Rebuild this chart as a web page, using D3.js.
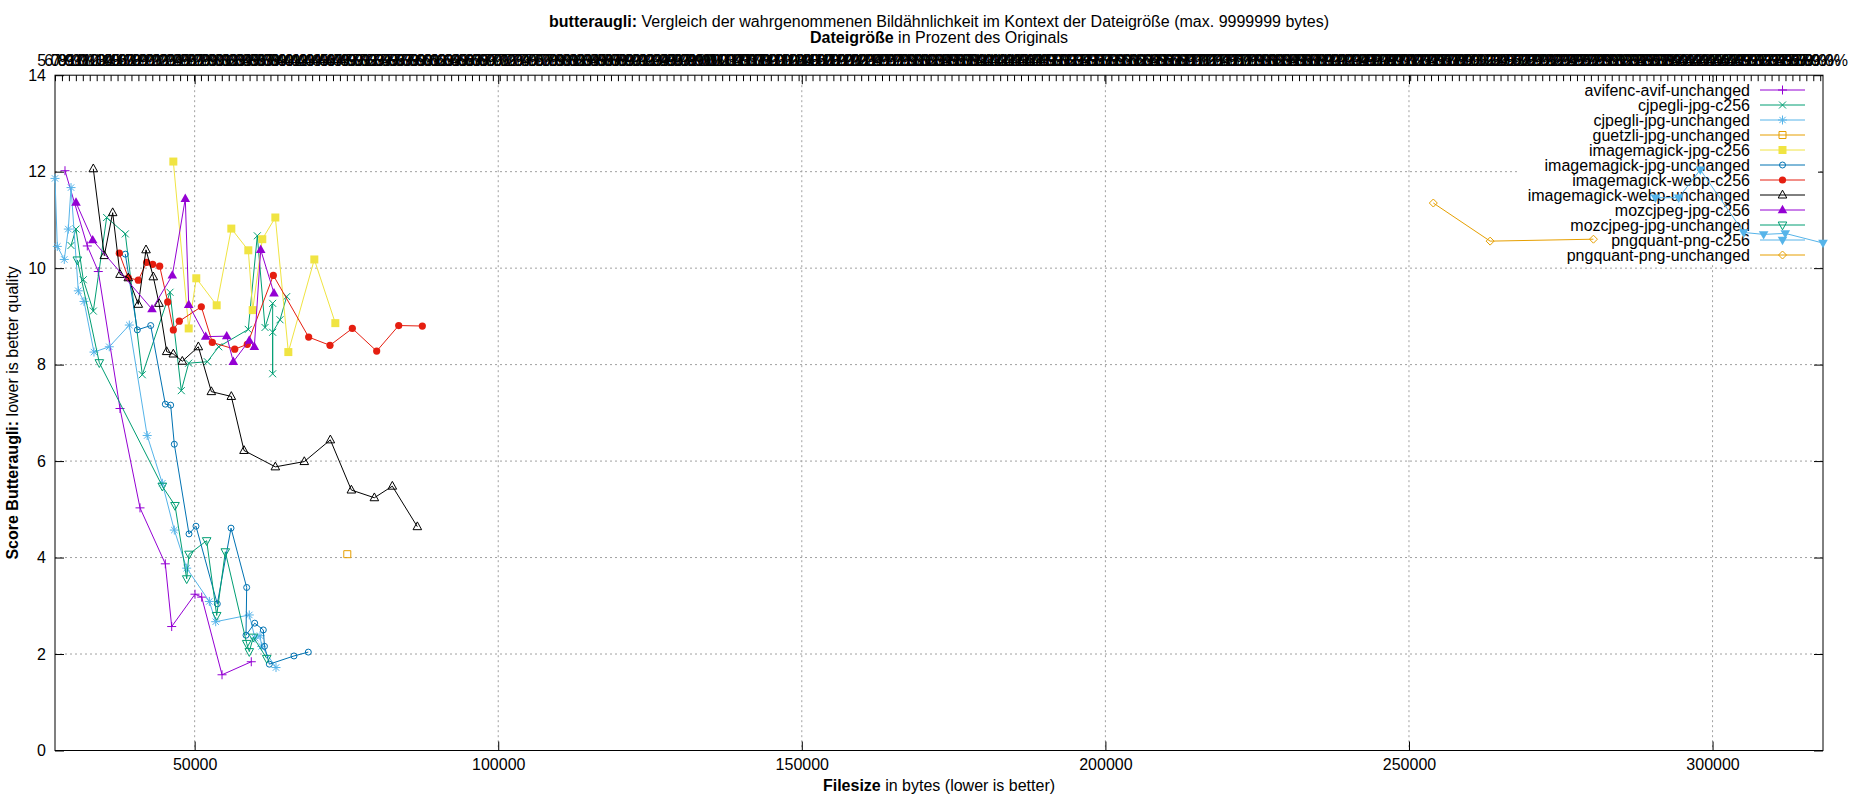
<!DOCTYPE html>
<html><head><meta charset="utf-8">
<script src="https://cdn.jsdelivr.net/npm/d3@7"></script>
<style>
body{margin:0;background:#fff}
svg{display:block}
text{font-family:"Liberation Sans",Arial,Helvetica,sans-serif;font-size:16px;fill:#000}
</style>
</head><body>
<svg id="chart" width="1850" height="800"></svg>
<script>
// ---------------- data (bytes, butteraugli score) ----------------
const seriesNames = [
  "avifenc-avif-unchanged","cjpegli-jpg-c256","cjpegli-jpg-unchanged","guetzli-jpg-unchanged",
  "imagemagick-jpg-c256","imagemagick-jpg-unchanged","imagemagick-webp-c256","imagemagick-webp-unchanged",
  "mozcjpeg-jpg-c256","mozcjpeg-jpg-unchanged","pngquant-png-c256","pngquant-png-unchanged"
];
const avifencAvifUnchanged = [[28647,12.02],[32320,10.46],[34130,9.93],[37706,7.09],[41000,5.03],[45170,3.87],[46220,2.57],[50058,3.24],[51160,3.18],[54510,1.57],[59330,1.84]];
const cjpegliJpgC256 = [[29635,10.47],[30459,10.81],[31660,9.76],[33310,9.11],[35510,11.05],[38580,10.71],[41380,7.79],[45940,9.50],[47800,7.46],[49020,8.03],[52090,8.06],[53960,8.37],[58830,8.73],[60320,10.67],[61590,8.77],[62850,9.27],[62850,7.81],[62850,8.67],[64060,8.93],[65160,9.41]];
const cjpegliJpgUnchanged = [[27000,11.86],[27380,10.45],[28530,10.18],[29190,10.81],[29640,11.67],[30840,9.53],[31780,9.31],[33420,8.26],[35940,8.37],[39240,8.82],[42180,6.53],[44675,5.54],[46650,4.57],[48690,3.78],[52420,3.09],[53470,2.67],[59000,2.81],[59940,2.33],[60770,2.38],[61040,2.16],[63400,1.72]];
const guetzliJpgUnchanged = [[75140,4.07]];
const imagemagickJpgC256 = [[46490,12.21],[49020,8.75],[50270,9.79],[53630,9.23],[56040,10.82],[58840,10.37],[59560,9.13],[61140,10.60],[63290,11.05],[65430,8.26],[69710,10.18],[73170,8.86]];
const imagemagickJpgUnchanged = [[38580,10.29],[40560,8.72],[42760,8.81],[45170,7.18],[46050,7.16],[46650,6.35],[49070,4.49],[50220,4.65],[53730,3.04],[55990,4.61],[58570,3.38],[58460,2.39],[59890,2.64],[61310,2.50],[61500,2.16],[62300,1.79],[66360,1.96],[68720,2.04]];
const imagemagickWebpC256 = [[37590,10.31],[39070,9.80],[40720,9.75],[42100,10.12],[43090,10.08],[44240,10.04],[45560,9.30],[46490,8.72],[47470,8.90],[51100,9.20],[52910,8.46],[56600,8.32],[58670,8.42],[62960,9.85],[68780,8.57],[72290,8.40],[75970,8.75],[79980,8.28],[83610,8.81],[87500,8.80]];
const imagemagickWebpUnchanged = [[33310,12.06],[35120,10.26],[36500,11.15],[37710,9.87],[39070,9.80],[40720,9.25],[41990,10.38],[43190,9.82],[44130,9.27],[45390,8.27],[46490,8.22],[47970,8.07],[50610,8.37],[52750,7.44],[56040,7.34],[58130,6.22],[63290,5.88],[68060,5.99],[72350,6.44],[75810,5.40],[79600,5.24],[82560,5.48],[86680,4.64]];
const mozcjpegJpgC256 = [[30459,11.36],[33209,10.58],[42976,9.15],[46320,9.85],[48460,11.44],[49020,9.24],[51820,8.58],[55280,8.59],[56370,8.06],[59000,8.50],[59830,8.37],[60880,10.38],[63070,9.48]];
const mozcjpegJpgUnchanged = [[30676,10.17],[34300,8.04],[44675,5.48],[46765,5.08],[48690,3.56],[49070,4.07],[51980,4.35],[53630,2.80],[55050,4.12],[58570,2.22],[59000,2.05],[59660,2.35],[61870,1.91]];
const pngquantPngC256 = [[290580,11.46],[294420,11.46],[297980,12.04],[305120,10.74],[308410,10.70],[311980,10.72],[318190,10.52]];
const pngquantPngUnchanged = [[254010,11.35],[263370,10.56],[280380,10.60]];

const seriesValues = [avifencAvifUnchanged,cjpegliJpgC256,cjpegliJpgUnchanged,guetzliJpgUnchanged,imagemagickJpgC256,imagemagickJpgUnchanged,imagemagickWebpC256,imagemagickWebpUnchanged,mozcjpegJpgC256,mozcjpegJpgUnchanged,pngquantPngC256,pngquantPngUnchanged];

const yTickValues = [0,2,4,6,8,10,12,14];
const xTickValues = [50000,100000,150000,200000,250000,300000];
const x2Domain = [5, 259.4];   // "Dateigröße in Prozent des Originals"

// ---------------- styles ----------------
const seriesColors = ['#9400d3','#009e73','#56b4e9','#e69f00','#f0e442','#0072b2','#e51e10','#000000','#9400d3','#009e73','#56b4e9','#e69f00'];
const seriesMarkers = ['plus','cross','star','squareOpen','squareFilled','circleOpen','circleFilled','triOpen','triFilled','invTriOpen','invTriFilled','diamondOpen'];

const L = 55, R = 1823, T = 75.2, B = 750.5;
const svg = d3.select('#chart');

const allX = seriesValues.flat().map(d => d[0]);
const x = d3.scaleLinear().domain(d3.extent(allX)).range([L, R]);
const y = d3.scaleLinear().domain([0, 14]).range([B, T]);
const x2 = d3.scaleLinear().domain(x2Domain).range([L, R]);

// grid
const grid = svg.append('g').attr('stroke','#a0a0a0').attr('stroke-width',1).attr('stroke-dasharray','2,3').attr('fill','none');
yTickValues.filter(v => v > 0 && v < 14).forEach(v => {
  grid.append('line').attr('x1',L).attr('x2',R).attr('y1',y(v)).attr('y2',y(v));
});
xTickValues.forEach(v => {
  grid.append('line').attr('x1',x(v)).attr('x2',x(v)).attr('y1',T).attr('y2',B);
});

// axes
function styleAxis(g){ g.select('.domain').remove(); g.selectAll('line').attr('stroke','#000'); g.selectAll('text').attr('font-size',16).attr('font-family','"Liberation Sans",Arial,sans-serif'); }
svg.append('g').attr('transform',`translate(0,${B})`)
  .call(d3.axisBottom(x).tickValues(xTickValues).tickSizeInner(-9).tickSizeOuter(0).tickPadding(8).tickFormat(d3.format('d')))
  .call(styleAxis);
svg.append('g').attr('transform',`translate(0,${T})`)
  .call(d3.axisTop(x).tickValues(xTickValues).tickSizeInner(-9).tickSizeOuter(0).tickFormat(''))
  .call(styleAxis);
svg.append('g').attr('transform',`translate(${L},0)`)
  .call(d3.axisLeft(y).tickValues(yTickValues).tickSizeInner(-9).tickSizeOuter(0).tickPadding(9))
  .call(styleAxis);
svg.append('g').attr('transform',`translate(${R},0)`)
  .call(d3.axisRight(y).tickValues(yTickValues).tickSizeInner(-9).tickSizeOuter(0).tickFormat(''))
  .call(styleAxis);
svg.append('g').attr('transform',`translate(0,${T})`)
  .call(d3.axisTop(x2).tickValues(d3.range(Math.ceil(x2Domain[0]), x2Domain[1], 1)).tickSizeInner(-6).tickSizeOuter(0).tickPadding(9).tickFormat(d => d.toFixed(1) + '%'))
  .call(styleAxis);

// legend background (opaque key)
svg.append('rect').attr('x',1517).attr('y',82).attr('width',301).attr('height',182).attr('fill','#fff');

// border
svg.append('rect').attr('x',L).attr('y',T).attr('width',R-L).attr('height',B-T).attr('fill','none').attr('stroke','#000').attr('stroke-width',1);

// marker drawing
function markerPath(type){
  switch(type){
    case 'plus': return {d:'M-4.5,0H4.5M0,-4.5V4.5', fill:false, stroke:true};
    case 'cross': return {d:'M-3.5,-3.5L3.5,3.5M-3.5,3.5L3.5,-3.5', fill:false, stroke:true};
    case 'star': return {d:'M-4.5,0H4.5M0,-4.5V4.5M-3.2,-3.2L3.2,3.2M-3.2,3.2L3.2,-3.2', fill:false, stroke:true};
    case 'squareOpen': return {d:'M-3.5,-3.5H3.5V3.5H-3.5Z', fill:false, stroke:true};
    case 'squareFilled': return {d:'M-4,-4H4V4H-4Z', fill:true, stroke:false};
    case 'circleOpen': return {d:'M3,0A3,3 0 1,1 -3,0A3,3 0 1,1 3,0Z', fill:false, stroke:true};
    case 'circleFilled': return {d:'M3.6,0A3.6,3.6 0 1,1 -3.6,0A3.6,3.6 0 1,1 3.6,0Z', fill:true, stroke:false};
    case 'triOpen': return {d:'M0,-4.8L4.3,3L-4.3,3Z', fill:false, stroke:true};
    case 'triFilled': return {d:'M0,-5.2L4.8,3.2L-4.8,3.2Z', fill:true, stroke:false};
    case 'invTriOpen': return {d:'M0,4.8L4.3,-3L-4.3,-3Z', fill:false, stroke:true};
    case 'invTriFilled': return {d:'M0,5.2L4.8,-3.2L-4.8,-3.2Z', fill:true, stroke:false};
    case 'diamondOpen': return {d:'M0,-4L4,0L0,4L-4,0Z', fill:false, stroke:true};
  }
}
function drawMarker(g, type, cx, cy, color){
  const m = markerPath(type);
  g.append('path').attr('d', m.d).attr('transform',`translate(${cx},${cy})`)
    .attr('fill', m.fill ? color : 'none')
    .attr('stroke', m.stroke ? color : 'none')
    .attr('stroke-width', 1);
}

// legend
const leg = svg.append('g');
seriesNames.forEach((name, i) => {
  const yy = 90 + i * 15;
  leg.append('text').attr('x',1750).attr('y',yy).attr('dy','0.35em').attr('text-anchor','end').text(name);
  leg.append('line').attr('x1',1760).attr('x2',1805).attr('y1',yy).attr('y2',yy).attr('stroke',seriesColors[i]).attr('stroke-width',1);
  drawMarker(leg, seriesMarkers[i], 1782.5, yy, seriesColors[i]);
});

// data
const line = d3.line().x(d => x(d[0])).y(d => y(d[1]));
seriesValues.forEach((vals, i) => {
  const g = svg.append('g');
  g.append('path').attr('d', line(vals)).attr('fill','none').attr('stroke',seriesColors[i]).attr('stroke-width',1);
  vals.forEach(d => drawMarker(g, seriesMarkers[i], x(d[0]), y(d[1]), seriesColors[i]));
});

// titles
const title = svg.append('text').attr('x',(L+R)/2).attr('y',27).attr('text-anchor','middle');
title.append('tspan').attr('font-weight','bold').text('butteraugli:');
title.append('tspan').text(' Vergleich der wahrgenommenen Bildähnlichkeit im Kontext der Dateigröße (max. 9999999 bytes)');
const title2 = svg.append('text').attr('x',(L+R)/2).attr('y',43).attr('text-anchor','middle');
title2.append('tspan').attr('font-weight','bold').text('Dateigröße');
title2.append('tspan').text(' in Prozent des Originals');

const xl = svg.append('text').attr('x',(L+R)/2).attr('y',791).attr('text-anchor','middle');
xl.append('tspan').attr('font-weight','bold').text('Filesize');
xl.append('tspan').text(' in bytes (lower is better)');

const yl = svg.append('text').attr('transform',`translate(18,${(T+B)/2}) rotate(-90)`).attr('text-anchor','middle');
yl.append('tspan').attr('font-weight','bold').text('Score Butteraugli:');
yl.append('tspan').text(' lower is better quality');
</script>
</body></html>
